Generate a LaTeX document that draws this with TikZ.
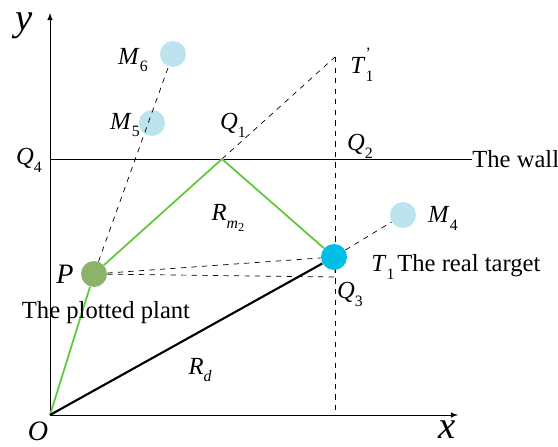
\documentclass[tikz,border=0pt]{standalone}
\usepackage{fontspec}
\setmainfont{Liberation Serif}[ItalicFont=Liberation Serif Italic]
\definecolor{plantgreen}{HTML}{8DB36B}
\definecolor{targetblue}{HTML}{00BFE6}
\definecolor{ghostblue}{HTML}{BCE4EE}
\definecolor{raygreen}{HTML}{5FC93A}
% italic letter with an upright subscript
\newcommand{\lbl}[2]{\textit{#1}\raisebox{-0.7ex}{\fontsize{9}{10}\selectfont #2}}
\begin{document}
\begin{tikzpicture}[font=\fontsize{14}{17}\selectfont,
    ball/.style={circle, minimum size=0.52cm, inner sep=0pt},
    ray/.style={dashed, thin},
    greenray/.style={raygreen, line width=1pt}]
        \useasboundingbox (-1,-0.64) rectangle (10.16,8.3);

        % Axes
        \coordinate (O) at (0,0);
        \coordinate (xend) at (8.16,0);
        \coordinate (yend) at (0,8.04);
        \draw[-latex] (O) -- (xend);
        \draw[-latex] (O) -- (yend);
        \node[inner sep=0pt] (xlab) at (7.94,-0.3) {\fontsize{22}{24}\selectfont\textit{x}};
        \node[inner sep=0pt] (ylab) at (-0.52,7.78) {\fontsize{22}{24}\selectfont\textit{y}};
        \node (Olab) at (-0.24,-0.32) {\fontsize{16}{18}\selectfont\textit{O}};

        % The wall
        \coordinate (wallL) at (0,5.12);
        \node[anchor=west, inner sep=0pt] (wall) at (8.44,5.12) {The wall};
        \draw (wallL) -- (wall.west);
        \node (Q4lab) at (-0.42,5.1) {\lbl{Q}{4}};

        % Points
        \coordinate (Q1) at (3.44,5.12);
        \coordinate (T1p) at (5.7,7.16);
        \coordinate (Q3) at (5.7,2.76);
        \coordinate (xT) at (5.7,0);

        % Dashed construction lines
        \draw[ray] (Q1) -- (T1p);
        \draw[ray] (T1p) -- (xT);

        % Plant, target and ghosts
        \node[ball, fill=plantgreen] (P) at (0.88,2.82) {};
        \node[ball, fill=targetblue] (T1) at (5.68,3.16) {};
        \node[ball, fill=ghostblue] (M4) at (7.06,4.0) {};
        \node[ball, fill=ghostblue] (M5) at (2.04,5.84) {};
        \node[ball, fill=ghostblue] (M6) at (2.46,7.22) {};

        \draw[ray] (P) -- (T1);
        \draw[ray] (P) -- (Q3) -- (5.7,2.9);
        \draw[ray] (T1) -- (M4);
        \draw[ray] (P) -- (M6);

        % Multipath and direct path
        \draw[greenray] (O) -- (P);
        \draw[greenray] (P) -- (Q1) -- (T1);
        \draw[line width=1.2pt] (O) -- (T1);

        % Labels
        \node (M6lab) at (1.66,7.1) {\lbl{M}{6}};
        \node (M5lab) at (1.5,5.8) {\lbl{M}{5}};
        \node (M4lab) at (7.86,3.94) {\lbl{M}{4}};
        \node (Q1lab) at (3.66,5.8) {\lbl{Q}{1}};
        \node (Q2lab) at (6.2,5.38) {\lbl{Q}{2}};
        \node (Q3lab) at (6.0,2.42) {\lbl{Q}{3}};
        \node (T1plab) at (6.24,7.0) {\textit{T}\rlap{\raisebox{1.3ex}{\fontsize{9}{10}\selectfont '}}\raisebox{-0.7ex}{\fontsize{9}{10}\selectfont 1}};
        \node (T1lab) at (6.66,2.96) {\lbl{T}{1}};
        \node[anchor=west, inner sep=0pt] (target) at (6.94,2.98) {The real target};
        \node (Plab) at (0.3,2.82) {\fontsize{16}{18}\selectfont\textit{P}};
        \node (plant) at (1.12,2.04) {The plotted plant};
        \node (Rm) at (3.56,3.94) {\textit{R}\raisebox{-0.7ex}{\fontsize{9}{10}\selectfont\textit{m}\raisebox{-0.4ex}{\fontsize{7}{8}\selectfont 2}}};
        \node (Rd) at (3.0,0.9) {\lbl{R}{\textit{d}}};
    \end{tikzpicture}
\end{document}
